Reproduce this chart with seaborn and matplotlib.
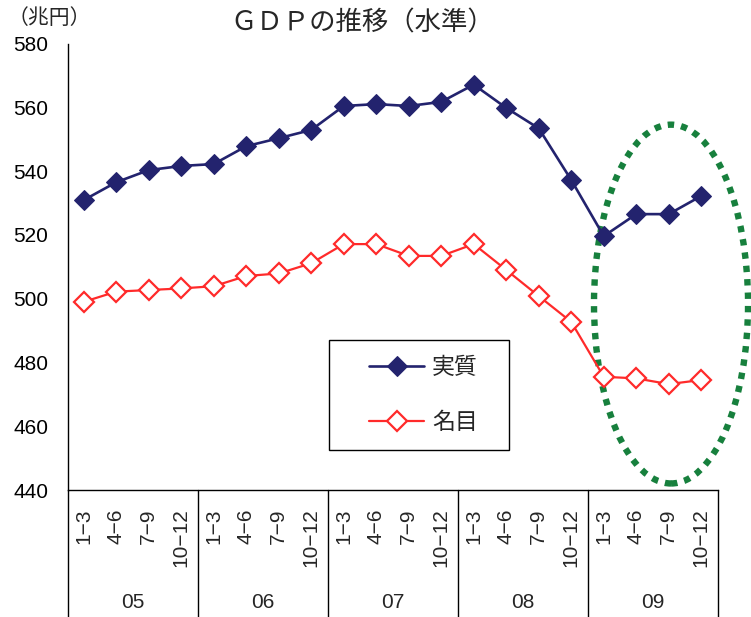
import matplotlib
matplotlib.use("Agg")
import matplotlib.pyplot as plt
import matplotlib.transforms as mtransforms
from matplotlib.patches import Ellipse, Rectangle
import seaborn as sns
import pandas as pd

# 四半期GDP（兆円）
years = ["05", "06", "07", "08", "09"]
quarters = ["1−3", "4−6", "7−9", "10−12"]
real_gdp = [530.9, 536.5, 540.3, 541.6, 542.2, 547.8, 550.3, 552.9,
            560.4, 561.0, 560.4, 561.7, 567.1, 559.8, 553.4, 537.2,
            519.6, 526.5, 526.5, 532.2]
nominal_gdp = [499.0, 502.2, 502.7, 503.2, 503.9, 507.1, 507.9, 511.1,
               517.1, 517.1, 513.4, 513.4, 517.1, 509.0, 500.8, 492.7,
               475.5, 475.0, 473.2, 474.5]
series_names = ["実質", "名目"]
y_ticks = [440, 460, 480, 500, 520, 540, 560, 580]

sns.set_style("white")
NUM_FONT = ["Liberation Sans", "DejaVu Sans"]
JP_FONT = ["Noto Sans CJK JP", "DejaVu Sans"]
plt.rcParams["font.family"] = NUM_FONT

NAVY = "#23236E"
RED = "#FF2A2A"
GREEN = "#17803D"

n = len(years) * len(quarters)
df = pd.DataFrame({
    "idx": list(range(n)) * 2,
    "value": real_gdp + nominal_gdp,
    "series": [series_names[0]] * n + [series_names[1]] * n,
})

W, H = 751, 617
fig = plt.figure(figsize=(W / 100, H / 100), dpi=100)
ax_left, ax_right, ax_top, ax_bottom = 67.5, 717.5, 43.5, 490
ax = fig.add_axes([ax_left / W, 1 - ax_bottom / H,
                   (ax_right - ax_left) / W, (ax_bottom - ax_top) / H])

sns.lineplot(data=df[df.series == series_names[0]], x="idx", y="value",
             ax=ax, color=NAVY, lw=1.9, marker="D", markersize=10,
             markerfacecolor=NAVY, markeredgecolor=NAVY, label=series_names[0])
sns.lineplot(data=df[df.series == series_names[1]], x="idx", y="value",
             ax=ax, color=RED, lw=1.6, marker="D", markersize=10,
             markerfacecolor="white", markeredgecolor=RED, markeredgewidth=1.6,
             label=series_names[1])

ax.set_xlim(-0.5, n - 0.5)
ax.set_ylim(440, 580)
ax.set_yticks(y_ticks)
ax.set_yticklabels([str(v) for v in y_ticks], fontsize=15, family=NUM_FONT)
ax.tick_params(axis="y", direction="in", length=7, width=1, pad=14, colors="black")
ax.set_xticks(range(n))
ax.set_xticklabels(quarters * len(years), rotation=90, fontsize=15,
                   family=NUM_FONT, va="top")
ax.tick_params(axis="x", length=0, pad=13)
ax.set_xlabel("")
ax.set_ylabel("")
for s in ["top", "right"]:
    ax.spines[s].set_visible(False)
for s in ["left", "bottom"]:
    ax.spines[s].set_color("black")
    ax.spines[s].set_linewidth(1.0)

# 年の区切り線と年ラベル
blend = mtransforms.blended_transform_factory(ax.transData, ax.transAxes)
depth = -(H - ax_bottom) / (ax_bottom - ax_top)
for k in range(len(years) + 1):
    xb = k * len(quarters) - 0.5
    ax.plot([xb, xb], [0, depth], color="black", lw=1.0,
            transform=blend, clip_on=False)
for k, yr in enumerate(years):
    xc = k * len(quarters) + (len(quarters) - 1) / 2
    ax.text(xc, -(603 - ax_bottom) / (ax_bottom - ax_top), yr,
            transform=blend, ha="center", va="center", fontsize=15,
            family=NUM_FONT)

# 09年の強調
ax.add_patch(Ellipse((18.07, 498.3), 4.74, 112.5, fill=False,
                     edgecolor=GREEN, lw=4.6, linestyle=(0, (1, 1.1)),
                     clip_on=False))

# 凡例
ax.get_legend().remove()
handles, labels = ax.get_legend_handles_labels()
leg = fig.legend(handles, labels, loc="center left",
                 bbox_to_anchor=(369 / W, 1 - 395 / H), frameon=False,
                 prop={"family": JP_FONT, "size": 16.5}, borderpad=0,
                 borderaxespad=0, handlelength=2.4, handletextpad=0.35,
                 labelspacing=1.4)
fig.patches.append(Rectangle((329 / W, 1 - 450 / H), 180 / W, 110 / H,
                             transform=fig.transFigure, fill=False,
                             edgecolor="black", lw=1.0))

fig.text(362 / W, 1 - 23 / H, "ＧＤＰの推移（水準）", ha="center", va="center",
         fontsize=19, family=JP_FONT)
fig.text(8 / W, 1 - 18 / H, "（兆円）", ha="left", va="center",
         fontsize=15, family=JP_FONT)

fig.savefig("out.png", dpi=100)
